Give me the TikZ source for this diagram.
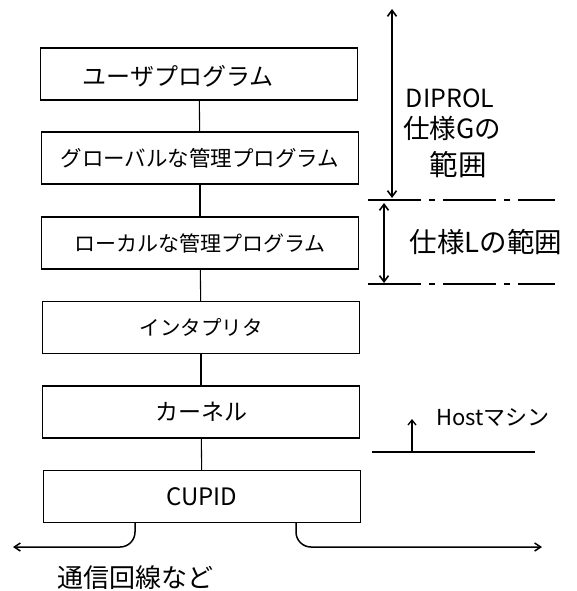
\documentclass[tikz,border=0pt]{standalone}
\usepackage{fontspec}
\setmainfont{Noto Sans CJK JP}
\usetikzlibrary{arrows.meta}
\tikzset{
  layer/.style={draw, line width=1.4pt, minimum width=317pt, minimum height=52pt, inner sep=0pt, font=\fontsize{21}{24}\selectfont},
  link/.style={line width=1.1pt},
  spanarrow/.style={line width=1.6pt, {Straight Barb[length=6pt,width=9pt]}-{Straight Barb[length=6pt,width=9pt]}},
  bound/.style={line width=1.2pt, dash pattern=on 53pt off 8pt on 6pt off 8pt},
  note/.style={inner sep=0pt, font=\fontsize{19}{22}\selectfont},
  wire/.style={line width=1.5pt, rounded corners=15pt, -{Straight Barb[length=6pt,width=8pt]}},
}
\begin{document}
\begin{tikzpicture}[x=1pt,y=-1pt]
\useasboundingbox (0,0) rectangle (576,591);
% layer boxes
\node[layer] (b1) at (199,74) {};
\node[note, font=\fontsize{24}{26}\selectfont] (t1box) at (178,76) {ユーザプログラム};
\node[layer, font=\fontsize{21.5}{24}\selectfont] (b2) at (200,158) {グローバルな管理プログラム};
\node[layer] (b3) at (200,243) {ローカルな管理プログラム};
\node[layer, font=\fontsize{20.5}{24}\selectfont] (b4) at (201,327.5) {インタプリタ};
\node[layer, font=\fontsize{23}{24}\selectfont] (b5) at (201,412) {カーネル};
\node[layer, font=\fontsize{24}{26}\selectfont] (b6) at (202,496.5) {CUPID};
\draw[link] (b1) -- (b2);
\draw[link] (b2) -- (b3);
\draw[link] (b3) -- (b4);
\draw[link] (b4) -- (b5);
\draw[link] (b5) -- (b6);
% range boundaries
\coordinate (gL) at (368,200);
\coordinate (gR) at (555,200);
\coordinate (lL) at (368,284);
\coordinate (lR) at (555,284);
\draw[bound] (gL) -- (gR);
\draw[bound] (lL) -- (lR);
% range arrows
\coordinate (gTop) at (392,9);
\coordinate (gBot) at (392,198);
\coordinate (lTop) at (384,203);
\coordinate (lBot) at (384,283);
\draw[spanarrow] (gTop) -- (gBot);
\draw[spanarrow] (lTop) -- (lBot);
% range labels
\node[note, font=\fontsize{25}{28}\selectfont] (t1) at (450,98) {DIPROL};
\node[note, font=\fontsize{26.5}{28}\selectfont] (t2) at (452,128) {仕様Gの};
\node[note, font=\fontsize{28.5}{30}\selectfont] (t3) at (458,165) {範囲};
\node[note, font=\fontsize{27.5}{30}\selectfont] (t4) at (486,242) {仕様Lの範囲};
% host machine
\coordinate (hL) at (372,452);
\coordinate (hR) at (535,452);
\coordinate (hA) at (412,452);
\coordinate (hT) at (412,419);
\draw[line width=1.3pt] (hL) -- (hR);
\draw[line width=1.3pt, -{Straight Barb[length=5pt,width=8pt]}] (hA) -- (hT);
\node[note, font=\fontsize{22}{24}\selectfont] (host) at (493,418) {Hostマシン};
% communication lines
\coordinate (c1) at (135,522.5);
\coordinate (e1) at (13,547);
\coordinate (c2) at (296,522.5);
\coordinate (e2) at (542,547);
\draw[wire] (c1) |- (e1);
\draw[wire] (c2) |- (e2);
\node[note, font=\fontsize{26}{28}\selectfont] (comm) at (135,578) {通信回線など};
\end{tikzpicture}
\end{document}
